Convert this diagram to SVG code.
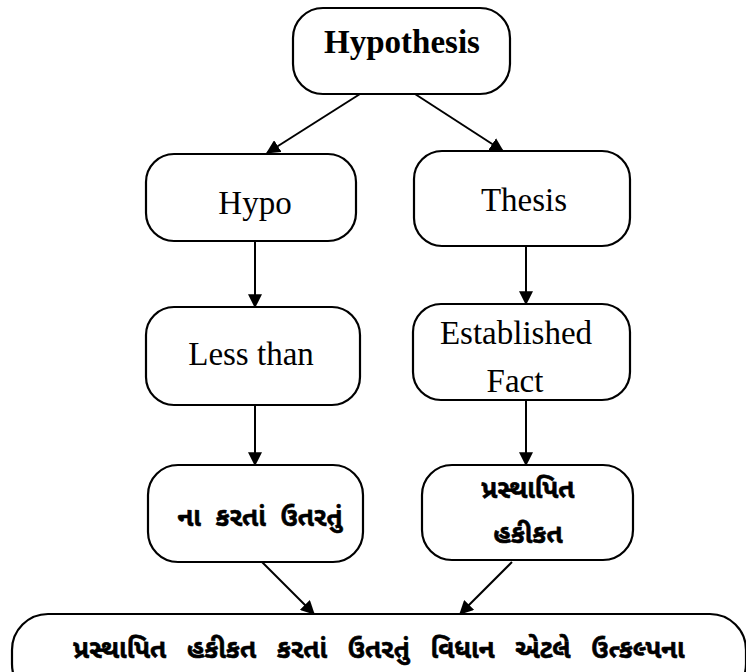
<svg xmlns="http://www.w3.org/2000/svg" width="746" height="672" viewBox="0 0 746 672">
<style>
.box{fill:#fff;stroke:#000;stroke-width:2.2}
.en{font-family:"Liberation Serif","Times New Roman",Times,serif;font-size:33px;fill:#000;text-anchor:middle}
.gu{font-family:"Noto Sans Gujarati","Lohit Gujarati","Noto Sans",sans-serif;font-weight:bold;font-size:26px;fill:#000;stroke:#000;stroke-width:0.6;text-anchor:middle}
.ln{stroke:#000;stroke-width:2;fill:none}
</style>
<defs>
<marker id="ah" viewBox="0 0 12 12" refX="11" refY="6" markerWidth="14" markerHeight="14" markerUnits="userSpaceOnUse" orient="auto">
<path d="M0,0 L12,6 L0,12 Z" fill="#000"/>
</marker>
</defs>
<g id="connectors">
<line class="ln" x1="360" y1="94" x2="267" y2="153" marker-end="url(#ah)"/>
<line class="ln" x1="415" y1="94" x2="503" y2="151" marker-end="url(#ah)"/>
<line class="ln" x1="255" y1="240" x2="255" y2="307" marker-end="url(#ah)"/>
<line class="ln" x1="526" y1="246" x2="526" y2="304" marker-end="url(#ah)"/>
<line class="ln" x1="255" y1="405" x2="255" y2="465" marker-end="url(#ah)"/>
<line class="ln" x1="526" y1="400" x2="526" y2="465" marker-end="url(#ah)"/>
<line class="ln" x1="262" y1="562" x2="314" y2="614" marker-end="url(#ah)"/>
<line class="ln" x1="512" y1="562" x2="460" y2="614" marker-end="url(#ah)"/>
</g>
<g id="hypothesis">
<rect class="box" x="293" y="8" width="217" height="86" rx="30"/>
<text class="en" x="402" y="53" font-weight="bold" font-size="34">Hypothesis</text>
</g>
<g id="hypo">
<rect class="box" x="146" y="154" width="210" height="87" rx="28"/>
<text class="en" x="255" y="214">Hypo</text>
</g>
<g id="thesis">
<rect class="box" x="414" y="151" width="216" height="95" rx="28"/>
<text class="en" x="524" y="211">Thesis</text>
</g>
<g id="lessthan">
<rect class="box" x="146" y="307" width="214" height="98" rx="28"/>
<text class="en" x="251" y="365">Less than</text>
</g>
<g id="established">
<rect class="box" x="413" y="304" width="217" height="96" rx="28"/>
<text class="en" x="516" y="344">Established</text>
<text class="en" x="515" y="392">Fact</text>
</g>
<g id="nakarta">
<rect class="box" x="148" y="465" width="215" height="97" rx="30"/>
<text class="gu" x="260" y="526" word-spacing="8">ના કરતાં ઉતરતું</text>
</g>
<g id="prasthapit">
<rect class="box" x="422" y="465" width="211" height="95" rx="30"/>
<text class="gu" x="528" y="498">પ્રસ્થાપિત</text>
<text class="gu" x="528" y="543">હકીકત</text>
</g>
<g id="bottom">
<rect class="box" x="12" y="614" width="734" height="86" rx="36"/>
<text class="gu" x="379" y="658" word-spacing="14">પ્રસ્થાપિત હકીકત કરતાં ઉતરતું વિધાન એટલે ઉત્કલ્પના</text>
</g>
</svg>
